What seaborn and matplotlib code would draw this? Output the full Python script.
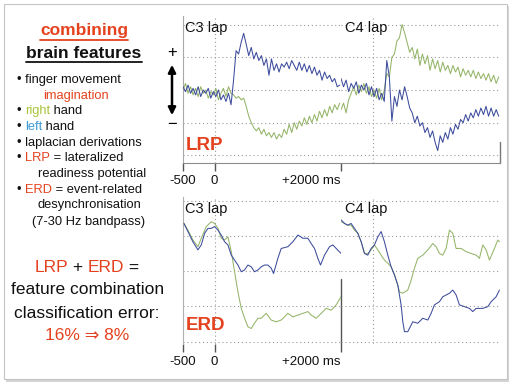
import numpy as np
import matplotlib
matplotlib.use("Agg")
import matplotlib.pyplot as plt
import seaborn as sns
from matplotlib.patches import Rectangle, FancyArrowPatch
from matplotlib.lines import Line2D

sns.set_style("white")
plt.rcParams['font.family'] = ['Liberation Sans', 'DejaVu Sans']

# ---------------- data (values in grid units, time in ms) ----------------
STEP_MS = 40
top_c3_blue = [0.1, -0.05, 0.15, -0.1, 0.05, -0.15, 0.1, -0.2, 0.0, -0.1, 0.05, -0.25, -0.05, -0.2, 0.0, -0.3,
               -0.15, -0.35, -0.1, -0.45,
               0.3, 1.2, 1.1, 1.45, 1.73, 1.4, 1.05, 1.3, 0.95, 1.15, 0.9, 1.05, 0.75, 0.95, 0.45, 0.95, 0.6, 0.8,
               0.55, 0.8, 0.7, 0.85, 0.65, 0.9, 0.75, 0.6, 0.85, 0.6, 0.8, 0.55, 0.75, 0.5, 0.7, 0.45, 0.6, 0.3,
               0.55, 0.35, 0.45, 0.25, 0.35, 0.1, 0.15]
top_c3_green = [0.0, 0.2, -0.1, 0.1, -0.15, 0.05, -0.2, 0.1, -0.1, 0.0, -0.25, -0.05, -0.15, 0.05, -0.3, -0.1,
                0.05, -0.2, 0.1, -0.1,
                -0.15, -0.25, -0.2, -0.3, -0.25, -0.5, -0.8, -1.0, -1.15, -1.25, -1.15, -1.35, -1.2, -1.4, -1.3,
                -1.45, -1.3, -1.5, -1.35, -1.45, -1.2, -1.35, -1.05, -1.3, -1.0, -1.2, -0.95, -1.1, -0.85, -1.05,
                -0.8, -1.0, -0.75, -0.95, -0.65, -0.85, -0.6, -0.8, -0.5, -0.7, -0.45, -0.6, -0.4]
top_c4_blue = [0.35, 0.1, 0.3, -0.05, 0.2, 0.05, 0.25, -0.1, 0.15, 0.0, 0.2, -0.15, 0.1,
               -0.2, 0.05, -0.3, -0.1, -0.35, 0.9, 0.4, -0.95, -0.2, -0.5, 0.0, -0.3, 0.1, -0.2, -0.55, -0.7,
               -1.0, -0.8, -1.1, -1.0, -1.3, -1.15, -1.45, -1.25, -1.6, -1.85, -1.4, -1.6, -1.3, -1.5, -1.15,
               -1.35, -1.05, -1.2, -0.9, -1.0, -0.75, -0.95, -0.7, -0.85, -0.6, -0.8, -0.55, -0.75, -0.5, -0.8,
               -0.55, -0.8, -0.6, -0.8]
top_c4_green = [-0.6, -0.4, -0.7, -0.3, -0.1, 0.1, -0.15, 0.15, -0.05, 0.2, -0.1, 0.1, -0.2,
                0.0, -0.25, 0.05, -0.3, 0.0, 0.5, 0.4, 1.0, 1.1, 1.5, 1.6, 2.0, 1.75, 1.45, 1.15, 1.3, 0.95, 1.25,
                0.75, 1.1, 0.8, 1.05, 0.6, 0.95, 0.65, 0.9, 0.55, 0.85, 0.6, 0.75, 0.5, 0.75, 0.55, 0.7, 0.4, 0.65,
                0.45, 0.6, 0.4, 0.6, 0.35, 0.55, 0.35, 0.5, 0.3, 0.5, 0.25, 0.45, 0.2, 0.4]

bot_c3_blue_t = [-485, -422, -343, -264, -211, -158, -105, -53, 0, 53, 105, 158, 211, 264, 316, 369, 422, 474,
                 527, 580, 632, 685, 738, 791, 843, 896, 933, 1001, 1054, 1159, 1238, 1318, 1397, 1476, 1528,
                 1581, 1634, 1676, 1739, 1818, 1871, 1924, 2000]
bot_c3_blue_v = [1.35, 1.12, 0.83, 0.60, 0.74, 1.07, 1.21, 1.21, 1.26, 1.16, 1.02, 0.83, 0.74, 0.45, 0.31, 0.17,
                 -0.02, 0.03, 0.17, 0.12, -0.02, 0.03, 0.12, 0.17, 0.17, 0.08, -0.07, 0.36, 0.64, 0.69, 0.83,
                 1.02, 0.93, 0.93, 0.78, 0.64, 0.36, 0.17, 0.45, 0.69, 0.74, 0.64, 0.50]
bot_c3_green_t = [-485, -422, -343, -264, -211, -132, -53, 0, 53, 105, 158, 211, 264, 316, 369, 422, 474, 527,
                  580, 632, 685, 738, 817, 896, 975, 1054, 1107, 1159, 1238, 1318, 1397, 1476, 1528, 1607, 1686,
                  1765, 1845, 1924, 2000]
bot_c3_green_v = [1.35, 1.16, 0.88, 0.69, 0.93, 1.26, 1.40, 1.35, 1.21, 0.93, 0.88, 0.97, 0.55, -0.02, -0.59,
                  -1.06, -1.34, -1.58, -1.63, -1.48, -1.34, -1.34, -1.20, -1.39, -1.44, -1.39, -1.30, -1.20,
                  -1.30, -1.25, -1.20, -1.15, -1.25, -1.34, -1.20, -1.06, -1.11, -0.96, -0.73]
bot_c4_blue_t = [-498, -445, -393, -341, -288, -236, -183, -131, -79, -26, 26, 79, 131, 183, 236, 288, 341, 393,
                 445, 472, 498, 550, 629, 707, 786, 865, 917, 969, 1048, 1100, 1153, 1205, 1258, 1310, 1362,
                 1441, 1520, 1572, 1624, 1729, 1808, 1860, 1939, 1991]
bot_c4_blue_v = [1.45, 1.35, 1.30, 1.35, 1.21, 1.07, 0.83, 0.50, 0.45, 0.64, 0.74, 0.97, 1.12, 0.83, 0.45, 0.12,
                 -0.11, -0.40, -0.96, -1.44, -1.72, -1.72, -1.44, -1.48, -1.34, -1.39, -1.20, -0.96, -0.87, -0.73,
                 -0.68, -0.63, -0.54, -0.68, -0.96, -1.01, -1.06, -1.15, -1.06, -1.06, -1.01, -0.87, -0.73, -0.54]
bot_c4_green_t = [-498, -445, -393, -341, -288, -236, -183, -131, -79, -26, 26, 79, 131, 183, 236, 288, 341, 393,
                  419, 472, 550, 603, 655, 707, 786, 865, 943, 996, 1048, 1100, 1153, 1205, 1258, 1310, 1389,
                  1467, 1546, 1624, 1677, 1729, 1782, 1834, 1913, 1965, 1991]
bot_c4_green_v = [1.40, 1.35, 1.30, 1.30, 1.16, 1.07, 0.83, 0.50, 0.50, 0.60, 0.74, 0.60, 0.45, 0.31, 0.22, 0.12,
                  -0.11, -0.40, -0.59, -0.63, -0.54, -0.26, 0.08, 0.36, 0.45, 0.60, 0.78, 0.69, 0.50, 0.45, 0.64,
                  1.16, 1.07, 0.64, 0.64, 0.55, 0.50, 0.45, 0.36, 0.74, 0.60, 0.31, 0.64, 0.88, 0.83]

tick_pos = [-500, 0, 2000]
tick_labels = ['-500', '0', '+2000 ms']
grid_levels = [-2, -1, 0, 1, 2]

# ---------------- styling ----------------
W, H = 512, 384
RED = '#e4421f'
GRN_TXT = '#a8c23a'
BLU_TXT = '#3d9ad6'
TRACE_BLUE = '#3d4c9c'
TRACE_GREEN = '#94b468'
GRID = '#9a9a9a'
K = '#111111'

fig = plt.figure(figsize=(5.12, 3.84), dpi=100)
fig.patch.set_facecolor('white')
renderer = fig.canvas.get_renderer()

# slide frame with shadow
fig.add_artist(Rectangle((6 / W, 1 - 382 / H), 503 / W, 376 / H, transform=fig.transFigure,
                         facecolor='#d4d4d4', edgecolor='none', zorder=-3))
fig.add_artist(Rectangle((4 / W, 1 - 379 / H), 503 / W, 375 / H, transform=fig.transFigure,
                         facecolor='white', edgecolor='#c4c4c4', lw=0.8, zorder=-2))


def make_ax(left, top, w, h):
    return fig.add_axes([left / W, 1 - (top + h) / H, w / W, h / H])


def style(ax, ylim):
    ax.set_facecolor('none')
    ax.set_xlim(-500, 2000)
    ax.set_ylim(*ylim)
    ax.set_yticks([])
    for s in ax.spines.values():
        s.set_visible(False)
    for lv in grid_levels:
        ax.axhline(lv, color=GRID, lw=0.8, ls=(0, (1, 2.5)), zorder=1)
    ax.axvline(0, color=GRID, lw=0.8, ls=(0, (1, 2.5)), zorder=1)
    ax.set_xticks([])


def ticks(ax):
    ax.set_xticks(tick_pos)
    ax.set_xticklabels(tick_labels, fontsize=9.5, color=K)
    ax.get_xticklabels()[2].set_ha('right')
    ax.tick_params(axis='x', direction='out', length=6, width=1, color='#555555', pad=2.5, bottom=True)


def trace(ax, t, v, color):
    sns.lineplot(x=np.asarray(t, float), y=np.asarray(v, float), ax=ax, color=color, linewidth=0.75,
                 estimator=None, sort=False, legend=False, zorder=3)


def step_time(vals):
    return np.arange(len(vals)) * STEP_MS - 500


top_ylim = (-2.23, 2.26)
bot_ylim = (-2.07, 2.10)

ax1 = make_ax(183, 16, 158, 147)
ax2 = make_ax(341, 16, 159, 147)
ax3 = make_ax(183, 197, 158, 147)
ax4 = make_ax(341, 197, 159, 147)
for a in (ax1, ax2):
    style(a, top_ylim)
for a in (ax3, ax4):
    style(a, bot_ylim)

trace(ax1, step_time(top_c3_green), top_c3_green, TRACE_GREEN)
trace(ax1, step_time(top_c3_blue), top_c3_blue, TRACE_BLUE)
trace(ax2, step_time(top_c4_green), top_c4_green, TRACE_GREEN)
trace(ax2, step_time(top_c4_blue), top_c4_blue, TRACE_BLUE)
trace(ax3, bot_c3_green_t, bot_c3_green_v, TRACE_GREEN)
trace(ax3, bot_c3_blue_t, bot_c3_blue_v, TRACE_BLUE)
trace(ax4, bot_c4_green_t, bot_c4_green_v, TRACE_GREEN)
trace(ax4, bot_c4_blue_t, bot_c4_blue_v, TRACE_BLUE)

for a in (ax1, ax2, ax3, ax4):
    a.set_xlabel('')
    a.set_ylabel('')
    a.set_xlim(-500, 2000)

# spines
ax1.spines['left'].set_visible(True)
ax1.spines['left'].set_color('#a8a8a8')
ax1.spines['bottom'].set_visible(True)
ax1.spines['bottom'].set_color('#8c8c8c')
ax2.spines['bottom'].set_visible(True)
ax2.spines['bottom'].set_color('#8c8c8c')
ax3.spines['left'].set_visible(True)
ax3.spines['left'].set_color('#b0b0b0')
ticks(ax1)
ticks(ax3)
ax2.axvline(2000, ymin=0, ymax=0.14, color='#777777', lw=1, clip_on=False)
ax3.axvline(2000, ymin=0, ymax=0.44, color='#555555', lw=1, clip_on=False)

# panel labels
for y in (28, 209):
    fig.text(185 / W, 1 - y / H, 'C3 lap', fontsize=10.5, va='center', ha='left', color=K)
    fig.text(345 / W, 1 - y / H, 'C4 lap', fontsize=10.5, va='center', ha='left', color=K)
fig.text(186 / W, 1 - 145 / H, 'LRP', fontsize=13.5, fontweight='bold', color=RED, va='center', ha='left')
fig.text(186 / W, 1 - 325 / H, 'ERD', fontsize=13.5, fontweight='bold', color=RED, va='center', ha='left')

# amplitude arrow
fig.add_artist(FancyArrowPatch((172 / W, 1 - 118 / H), (172 / W, 1 - 62 / H), transform=fig.transFigure,
                               arrowstyle='<|-|>', mutation_scale=11, lw=1.8, color='black'))
fig.text(172 / W, 1 - 52 / H, '+', fontsize=12, ha='center', va='center', color='black')
fig.text(172 / W, 1 - 125 / H, '\u2212', fontsize=12, ha='center', va='center', color='black')


# ---------------- left text ----------------
def text_width(s, size, weight):
    t = fig.text(0, 0, s + '|', fontsize=size, fontweight=weight)
    w1 = t.get_window_extent(renderer).width
    t.set_text('|')
    w0 = t.get_window_extent(renderer).width
    t.remove()
    return w1 - w0


def chain(pieces, x, y, size, weight='normal', align='left'):
    full = ''.join(s for s, _ in pieces)
    total = text_width(full, size, weight)
    x0 = x - total / 2 if align == 'center' else x
    prefix = ''
    for s, c in pieces:
        off = text_width(prefix, size, weight) if prefix else 0.0
        fig.text((x0 + off) / W, 1 - y / H, s, color=c, fontsize=size, fontweight=weight,
                 va='center', ha='left')
        prefix += s
    return x0, x0 + total


x0, x1 = chain([('combining', RED)], 84, 31, 12.5, 'bold', 'center')
fig.add_artist(Line2D([x0 / W, x1 / W], [1 - 40 / H] * 2, color=RED, lw=1.3, transform=fig.transFigure))
x0, x1 = chain([('brain features', K)], 84, 53, 12.5, 'bold', 'center')
fig.add_artist(Line2D([x0 / W, x1 / W], [1 - 61.5 / H] * 2, color=K, lw=1.3, transform=fig.transFigure))

BS = 9.3
BX = 17
chain([('\u2022 finger movement', K)], BX, 80, BS)
chain([('imagination', RED)], 43, 96, BS)
chain([('\u2022 ', K), ('right', GRN_TXT), (' hand', K)], BX, 111, BS)
chain([('\u2022 ', K), ('left', BLU_TXT), (' hand', K)], BX, 127, BS)
chain([('\u2022 laplacian derivations', K)], BX, 143, BS)
chain([('\u2022 ', K), ('LRP', RED), (' = lateralized', K)], BX, 158, BS)
chain([('readiness potential', K)], 38, 174, BS)
chain([('\u2022 ', K), ('ERD', RED), (' = event-related', K)], BX, 190, BS)
chain([('desynchronisation', K)], 38, 205, BS)
chain([('(7-30 Hz bandpass)', K)], 89, 222, BS, align='center')

BIG = 12.5
chain([('LRP', RED), (' + ', K), ('ERD', RED), (' =', K)], 87, 268, BIG, align='center')
chain([('feature combination', K)], 88, 289, BIG, align='center')
chain([('classification error:', K)], 86.5, 314, BIG, align='center')
chain([('16% \u21d2 8%', RED)], 87.5, 336, BIG, align='center')

fig.savefig('out.png', dpi=100)
